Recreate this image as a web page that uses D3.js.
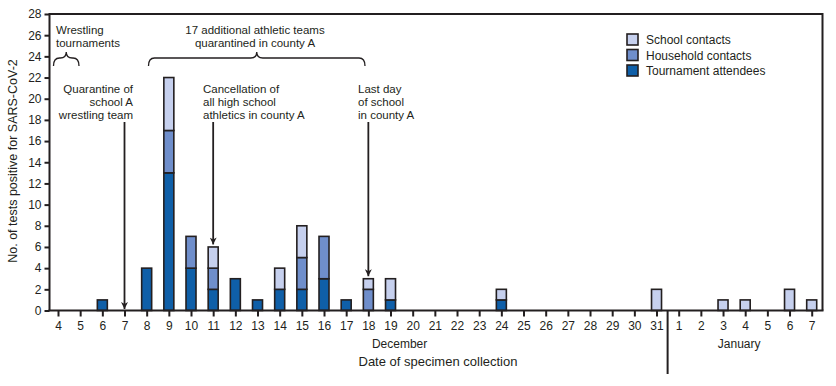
<!DOCTYPE html>
<html><head><meta charset="utf-8">
<script src="https://cdn.jsdelivr.net/npm/d3@7"></script>
<style>body{margin:0;background:#fff}svg{display:block}text{font-family:"Liberation Sans",Arial,sans-serif;fill:#231f20}</style>
</head><body><svg id="c" width="836" height="386"></svg>
<script>
const dayLabels = ["4","5","6","7","8","9","10","11","12","13","14","15","16","17","18","19","20","21","22","23","24","25","26","27","28","29","30","31","1","2","3","4","5","6","7"];
const dayKeys = dayLabels.map((d,i)=> (i<28?"Dec ":"Jan ")+d);
const tournament = [0,0,1,0,4,13,4,2,3,1,2,2,3,1,0,1,0,0,0,0,1,0,0,0,0,0,0,0,0,0,0,0,0,0,0];
const household  = [0,0,0,0,0,4,3,2,0,0,0,3,4,0,2,0,0,0,0,0,0,0,0,0,0,0,0,0,0,0,0,0,0,0,0];
const school     = [0,0,0,0,0,5,0,2,0,0,2,3,0,0,1,2,0,0,0,0,1,0,0,0,0,0,0,2,0,0,1,1,0,2,1];
const seriesNames = ["Tournament attendees","Household contacts","School contacts"];
const colors = ["#0f5fa8","#6f8ecb","#c6d0ee"];
const yTicks = d3.range(0,29,2);

const svg = d3.select("#c");
const L=49.5, R=822.5, T=14, B=310.5;
const x = d3.scalePoint().domain(dayKeys).range([58,811.7]);
const y = d3.scaleLinear().domain([0,28]).range([B,T]);
const ink="#231f20";

const rows = dayKeys.map((k,i)=>({key:k,"Tournament attendees":tournament[i],"Household contacts":household[i],"School contacts":school[i]}));
const stack = d3.stack().keys(seriesNames)(rows);
const bw=10;
stack.forEach((s,si)=>{
  svg.append("g").selectAll("rect").data(s.filter(d=>d[1]>d[0])).join("rect")
    .attr("x",d=>x(d.data.key)-bw/2).attr("y",d=>y(d[1]))
    .attr("width",bw).attr("height",d=>y(d[0])-y(d[1]))
    .attr("fill",colors[si]).attr("stroke",ink).attr("stroke-width",1.6);
});

// frame
svg.append("path").attr("d",`M${L},${B}V${T}H${R}V${B}`).attr("fill","none").attr("stroke",ink).attr("stroke-width",2);
// y axis
const ya = svg.append("g").attr("transform",`translate(${L},0)`)
  .call(d3.axisLeft(y).tickValues(yTicks).tickSize(5).tickPadding(3));
ya.select(".domain").remove();
ya.selectAll("line").attr("stroke",ink).attr("stroke-width",2);
ya.selectAll("text").attr("font-size",12).style("font-family","Liberation Sans, Arial").attr("fill",ink);
// x axis
const xa = svg.append("g").attr("transform",`translate(0,${B})`)
  .call(d3.axisBottom(x).tickSize(6).tickPadding(5).tickFormat((d,i)=>dayLabels[i]));
xa.select(".domain").remove();
xa.selectAll("line").attr("stroke",ink).attr("stroke-width",2);
xa.selectAll("text").attr("font-size",12).style("font-family","Liberation Sans, Arial").attr("fill",ink);
svg.append("line").attr("x1",L-1).attr("x2",R+1).attr("y1",B).attr("y2",B).attr("stroke",ink).attr("stroke-width",2);
// month separator
const sepX=(x("Dec 31")+x("Jan 1"))/2;
svg.append("line").attr("x1",sepX).attr("x2",sepX).attr("y1",B).attr("y2",374).attr("stroke",ink).attr("stroke-width",2);
svg.append("text").attr("x",(x("Dec 19")+x("Dec 20"))/2-2).attr("y",348).attr("text-anchor","middle").attr("font-size",12).text("December");
svg.append("text").attr("x",x("Jan 4")-6).attr("y",348).attr("text-anchor","middle").attr("font-size",12).text("January");
svg.append("text").attr("x",438).attr("y",366).attr("text-anchor","middle").attr("font-size",13).text("Date of specimen collection");
svg.append("text").attr("transform",`translate(17,161) rotate(-90)`).attr("text-anchor","middle").attr("font-size",12.5).text("No. of tests positive for SARS-CoV-2");

// legend
const lg = svg.append("g");
["School contacts","Household contacts","Tournament attendees"].forEach((n,i)=>{
  const ci = seriesNames.indexOf(n);
  lg.append("rect").attr("x",627).attr("y",34+i*15.5).attr("width",11).attr("height",11).attr("fill",colors[ci]).attr("stroke",ink).attr("stroke-width",1.6);
  lg.append("text").attr("x",646).attr("y",44+i*15.5).attr("font-size",12).text(n);
});

// annotations (one text element per line)
function lines(xp,yp,arr,anchor){
  arr.forEach((s,i)=>svg.append("text").attr("font-size",11.5).attr("text-anchor",anchor)
    .attr("x",xp).attr("y",yp+i*13).text(s));
}
lines(56,33.5,["Wrestling","tournaments"],"start");
lines(255,33.5,["17 additional athletic teams","quarantined in county A"],"middle");
lines(133,92.5,["Quarantine of","school A","wrestling team"],"end");
lines(203,92.5,["Cancellation of","all high school","athletics in county A"],"start");
lines(358,92.5,["Last day","of school","in county A"],"start");
function brace(x0,x1,yt,yb){
  const m=(x0+x1)/2, r=6;
  const p=`M${x0},${yb}Q${x0},${yt+r} ${x0+r},${yt+r}H${m-r}Q${m},${yt+r} ${m},${yt}Q${m},${yt+r} ${m+r},${yt+r}H${x1-r}Q${x1},${yt+r} ${x1},${yb}`;
  svg.append("path").attr("d",p).attr("fill","none").attr("stroke",ink).attr("stroke-width",1.3);
}
brace(53.5,79,52,66);
brace(148.5,365,52,66);
svg.append("defs").append("marker").attr("id","ah").attr("viewBox","0 0 10 10").attr("refX",10).attr("refY",5)
  .attr("markerWidth",7).attr("markerHeight",7).attr("markerUnits","userSpaceOnUse").attr("orient","auto")
  .append("path").attr("d","M0,0L10,5L0,10L3,5Z").attr("fill",ink);
function arrow(key,tip){
  const xp=x(key);
  svg.append("line").attr("x1",xp).attr("x2",xp).attr("y1",122).attr("y2",tip).attr("stroke",ink).attr("stroke-width",1.8).attr("marker-end","url(#ah)");
}
const tot=i=>tournament[i]+household[i]+school[i];
arrow("Dec 7",y(0)-1.5);
arrow("Dec 11",y(tot(7))-2.5);
arrow("Dec 18",y(tot(14))-2.5);
</script></body></html>
